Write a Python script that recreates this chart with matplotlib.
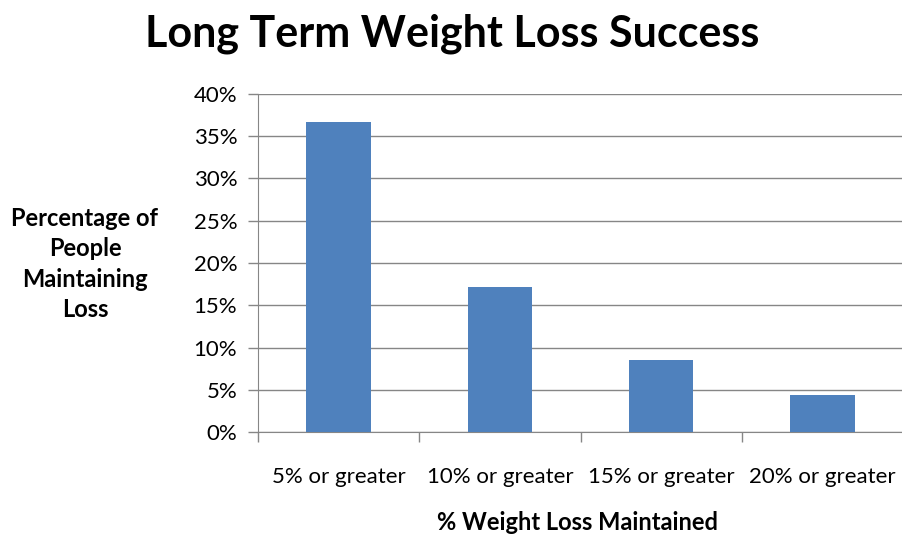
import matplotlib.pyplot as plt
import numpy as np
from matplotlib.ticker import PercentFormatter

categories = ["5% or greater", "10% or greater", "15% or greater", "20% or greater"]
values = [36.7, 17.2, 8.5, 4.4]
yticks = [0, 5, 10, 15, 20, 25, 30, 35, 40]

plt.rcParams["font.family"] = ["Lato", "DejaVu Sans"]

fig = plt.figure(figsize=(9.03, 5.36), dpi=100)
ax = fig.add_axes([258 / 903, 1 - 432 / 536, 645 / 903, 338 / 536])

x = np.arange(len(categories))
ax.bar(x, values, width=0.4, color="#4F81BD", zorder=3)

ax.set_xlim(-0.5, len(categories) - 0.5)
ax.set_ylim(0, 40)
ax.set_yticks(yticks)
ax.yaxis.set_major_formatter(PercentFormatter(decimals=0))
ax.grid(axis="y", color="#868686", linewidth=1, zorder=0)

# category boundaries carry the x tick marks
ax.set_xticks(np.arange(len(categories) + 1) - 0.5)
ax.set_xticklabels([])
ax.set_xticks(x, minor=True)
ax.set_xticklabels(categories, minor=True, fontsize=16)
ax.tick_params(axis="x", which="major", length=7, color="#868686", width=1)
ax.tick_params(axis="x", which="minor", length=0, pad=25)
ax.tick_params(axis="y", length=7, color="#868686", width=1, labelsize=16, pad=8)

for side in ["top", "right"]:
    ax.spines[side].set_visible(False)
ax.spines["left"].set_color("#868686")
ax.spines["bottom"].set_color("#868686")

fig.text(452 / 903, 1 - 34 / 536, "Long Term Weight Loss Success",
         ha="center", va="center", fontsize=31, fontweight="bold")
fig.text(85 / 903, 1 - 264 / 536, "Percentage of\nPeople\nMaintaining\nLoss",
         ha="center", va="center", fontsize=17, fontweight="bold", linespacing=1.38)
fig.text(578 / 903, 1 - 523 / 536, "% Weight Loss Maintained",
         ha="center", va="center", fontsize=17, fontweight="bold")

fig.savefig("out.png", dpi=100)
